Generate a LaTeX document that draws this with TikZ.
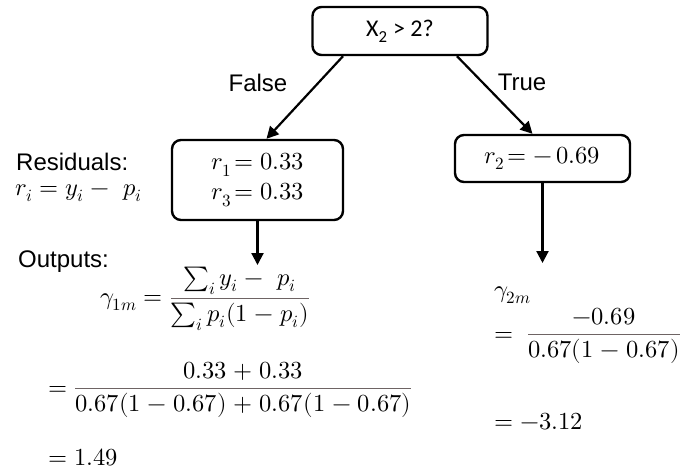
\documentclass[tikz,border=0pt]{standalone}
\usepackage{amsmath}
\usepackage{fontspec}
\usepackage{unicode-math}
\setmainfont{Liberation Sans}
\setmathfont{Latin Modern Math}
\newfontfamily\calib{Carlito}
\usetikzlibrary{arrows.meta}
\definecolor{barcol}{RGB}{110,100,100}
\newcommand{\gfrac}[2]{{\color{barcol}\dfrac{\color{black}#1}{\color{black}#2}}}
\medmuskip=5mu plus 2mu minus 4mu\relax
\tikzset{
  box/.style={draw, line width=2.4pt, rounded corners=9pt, align=center, inner sep=0pt},
  arr/.style={line width=2.2pt, -{Triangle[width=12pt,length=12pt]}},
  lbl/.style={font=\fontsize{24}{28}\selectfont, inner sep=0pt},
  eq/.style={font=\fontsize{24.5}{28}\selectfont, inner sep=0pt, anchor=west},
}
\begin{document}
\begin{tikzpicture}[x=1pt,y=-1pt]
\useasboundingbox (0,0) rectangle (691,469);
% boxes
\node[box, minimum width=175pt, minimum height=48pt, font=\calib\fontsize{24}{28}\selectfont] (top) at (400,31) {X\textsubscript{2} > 2?};
\node[box, minimum width=171pt, minimum height=80pt, font=\fontsize{24.5}{30}\selectfont] (L) at (257.5,180) {$r_1\!= 0.33$\\[0pt] $r_3\!= 0.33$};
\node[box, minimum width=175pt, minimum height=47pt, font=\fontsize{24.5}{28}\selectfont] (R) at (542.5,158.5) {$r_2\!= -\,0.69$};
% arrows
\draw[arr] ([xshift=-57pt]top.south) -- ([xshift=9pt]L.north);
\draw[arr] ([xshift=57pt]top.south) -- ([xshift=-10pt]R.north);
\coordinate (Lend) at (257.5,265);
\coordinate (Rend) at (542.5,263);
\draw[arr] (L.south) -- (Lend);
\draw[arr] (R.south) -- (Rend);
% branch labels
\node[lbl] (false) at (258,83) {False};
\node[lbl] (true) at (522,82) {True};
% left labels
\node[lbl, anchor=west] (res) at (16,162) {Residuals:};
\node[eq] (rdef) at (15,193) {$r_i = y_i -\ p_i$};
\node[lbl, anchor=west] (out) at (18,262) {Outputs:};
% left outputs
\node[eq] (g1) at (100,299) {$\gamma_{1m} = \gfrac{\sum_i y_i -\ p_i}{\sum_i p_i(1-p_i)}$};
\node[eq] (g1b) at (48,390) {$= \gfrac{0.33+0.33}{0.67(1-0.67)+0.67(1-0.67)}$};
\node[eq] (g1c) at (48,457) {$= 1.49$};
% right outputs
\node[eq] (g2) at (494,295) {$\gamma_{2m}$};
\node[eq] (g2b) at (494,336) {$=\ \gfrac{-0.69}{0.67(1-0.67)}$};
\node[eq] (g2c) at (494,422) {$= -3.12$};
\end{tikzpicture}
\end{document}
